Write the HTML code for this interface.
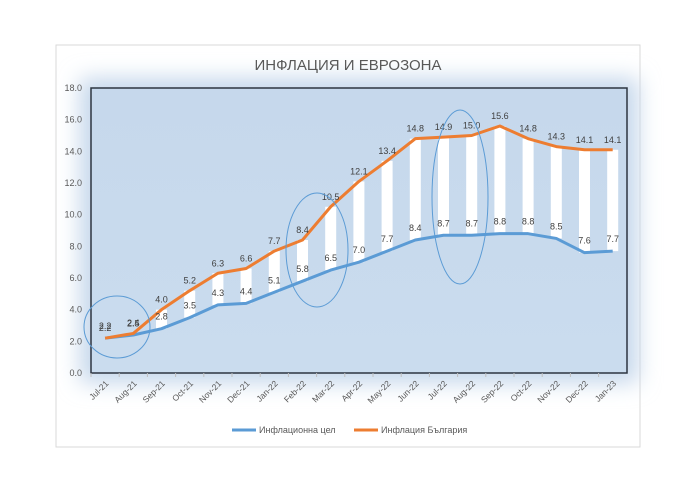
<!DOCTYPE html>
<html><head><meta charset="utf-8"><style>
body{margin:0;background:#fff;width:696px;height:492px;overflow:hidden}
svg{display:block;font-family:"Liberation Sans","DejaVu Sans",sans-serif}
</style></head><body>
<svg id="s" width="696" height="492" xmlns="http://www.w3.org/2000/svg">
<defs>
<filter id="glow" x="-20%" y="-20%" width="140%" height="140%"><feGaussianBlur stdDeviation="11"/></filter>
<linearGradient id="bg" x1="0" y1="0" x2="0" y2="1"><stop offset="0" stop-color="#c6d8ec"/><stop offset="1" stop-color="#cadcee"/></linearGradient>
</defs>
<rect x="56" y="45" width="584" height="402" fill="#fff" stroke="#d9d9d9"/>
<rect x="80" y="78" width="558" height="305" fill="#c5d7eb" filter="url(#glow)"/>
<rect x="91" y="88" width="536" height="285" fill="url(#bg)" stroke="#2d3540" stroke-width="1.5"/>
<text x="348" y="70" text-anchor="middle" font-size="15" fill="#595959">ИНФЛАЦИЯ И ЕВРОЗОНА</text>
<g id="g"></g>
</svg>
<script>
var ez=[2.2,2.4,2.8,3.5,4.3,4.4,5.1,5.8,6.5,7.0,7.7,8.4,8.7,8.7,8.8,8.8,8.5,7.6,7.7];
var bg=[2.2,2.5,4.0,5.2,6.3,6.6,7.7,8.4,10.5,12.1,13.4,14.8,14.9,15.0,15.6,14.8,14.3,14.1,14.1];
var m=["Jul-21","Aug-21","Sep-21","Oct-21","Nov-21","Dec-21","Jan-22","Feb-22","Mar-22","Apr-22","May-22","Jun-22","Jul-22","Aug-22","Sep-22","Oct-22","Nov-22","Dec-22","Jan-23"];
function X(i){return 91+28.2*(i+0.5)}function Y(v){return 373-v*15.833}
var h="";
for(var v=0;v<=18;v+=2){h+='<text x="82" y="'+(Y(v)+3)+'" text-anchor="end" font-size="9" fill="#595959">'+v.toFixed(1)+'</text>';}
for(var i=0;i<19;i++){h+='<line x1="'+(91+28.2*i)+'" y1="373" x2="'+(91+28.2*i)+'" y2="377" stroke="#bfbfbf"/>';
var t=Math.abs(bg[i]-ez[i]);if(t>0.05)h+='<rect x="'+(X(i)-5.5)+'" y="'+Y(bg[i])+'" width="11" height="'+(t*15.833)+'" fill="#fff"/>';
h+='<text transform="translate('+(X(i)+4)+',384) rotate(-45)" text-anchor="end" font-size="8.5" fill="#595959">'+m[i]+'</text>';}
var pe="",pb="";for(i=0;i<19;i++){pe+=X(i)+","+Y(ez[i])+" ";pb+=X(i)+","+Y(bg[i])+" ";}
h+='<polyline points="'+pe+'" fill="none" stroke="#5b9bd5" stroke-width="3" stroke-linejoin="round"/>';
h+='<polyline points="'+pb+'" fill="none" stroke="#ed7d31" stroke-width="3" stroke-linejoin="round"/>';
for(i=0;i<19;i++){h+='<text x="'+X(i)+'" y="'+(Y(bg[i])-7)+'" text-anchor="middle" font-size="9" fill="#404040">'+bg[i].toFixed(1)+'</text>';
h+='<text x="'+X(i)+'" y="'+(Y(ez[i])-9)+'" text-anchor="middle" font-size="9" fill="#404040">'+ez[i].toFixed(1)+'</text>';}
h+='<ellipse cx="117" cy="327" rx="33" ry="31" fill="none" stroke="#5b9bd5" stroke-width="1"/>';
h+='<ellipse cx="317" cy="250" rx="31" ry="57" fill="none" stroke="#5b9bd5" stroke-width="1"/>';
h+='<ellipse cx="460" cy="197" rx="28" ry="87" fill="none" stroke="#5b9bd5" stroke-width="1"/>';
h+='<line x1="232" y1="430" x2="256" y2="430" stroke="#5b9bd5" stroke-width="3"/><text x="259" y="433" font-size="9" fill="#595959">Инфлационна цел</text>';
h+='<line x1="354" y1="430" x2="378" y2="430" stroke="#ed7d31" stroke-width="3"/><text x="381" y="433" font-size="9" fill="#595959">Инфлация България</text>';
document.getElementById("g").innerHTML=h;
</script>
</body></html>
